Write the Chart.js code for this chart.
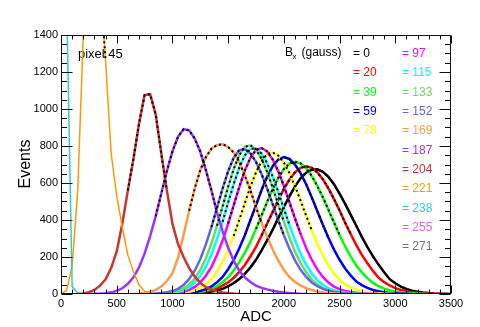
<!DOCTYPE html>
<html>
<head>
<meta charset="utf-8">
<script src="https://cdn.jsdelivr.net/npm/chart.js@4.4.1/dist/chart.umd.min.js"></script>
<style>
  html, body { margin: 0; padding: 0; background: #fff; }
</style>
</head>
<body>
<canvas id="adcChart" width="480" height="327"></canvas>
<script>

// B_x values (gauss) and the colour of each histogram
const fields = [0, 20, 39, 59, 78, 97, 115, 133, 152, 169, 187, 204, 221, 238, 255, 271]
const colors = ["#000000", "#ff0000", "#00ff00", "#0000ff", "#ffff00", "#ff00ff", "#00ffff", "#66dd66",
                "#6666dd", "#ff9a4a", "#9933ff", "#cc3333", "#ff9900", "#33cccc", "#dd66dd", "#707070"]

// bins are 50 ADC wide, each histogram listed from its first bin
const binWidth = 50
const firstBin = [1050, 1000, 1000, 950, 900, 850, 850, 800, 750, 650, 250, 150, 0, 0, 0, 0]

const counts0 = [0,1,2,3,5,8,13,19,28,42,59,81,109,144,185,236,290,348,410,470,528,582,625,656,672,674,660,633,593,543,487,428,369,309,253,203,159,118,80,58,40,27,18,12,8,5,3,2,1,0]
const counts20 = [0,1,2,3,5,8,13,20,30,45,63,88,119,157,204,255,316,381,444,509,568,618,658,682,690,682,658,620,571,513,451,385,324,264,211,166,125,88,64,46,32,22,15,10,6,4,2,1,0]
const counts39 = [0,1,2,4,7,11,18,29,43,64,91,127,172,224,284,352,425,498,568,628,675,705,715,706,680,638,584,523,455,386,319,257,202,154,117,86,60,42,29,20,13,9,6,4,2,1,0]
const counts59 = [0,1,2,3,6,10,16,26,41,63,92,134,184,247,318,400,480,562,634,691,727,740,730,700,653,593,523,449,374,304,240,185,138,100,68,48,33,22,15,10,6,4,2,1,0]
const counts78 = [0,1,2,4,7,12,19,33,53,81,121,173,237,314,401,491,580,658,719,756,765,748,710,654,583,505,423,345,272,208,154,111,77,53,36,24,16,10,6,4,2,1,0]
const counts97 = [0,1,2,4,7,13,22,38,63,99,147,211,289,381,480,578,667,736,779,789,771,727,663,584,497,408,325,249,185,133,92,62,40,26,17,11,7,4,2,1,0]
const counts115 = [0,1,3,6,11,20,36,62,97,148,214,296,391,494,595,683,750,785,787,759,707,635,551,461,373,290,218,159,111,75,50,32,20,13,8,5,3,1,0]
const counts133 = [0,1,2,5,9,17,30,51,83,130,193,273,369,473,580,675,751,795,804,781,731,660,575,483,391,305,229,167,117,78,51,33,21,13,8,5,3,1,0]
const counts152 = [0,1,2,5,9,16,28,49,81,126,188,268,362,466,570,664,737,778,783,760,714,648,570,484,399,318,245,182,131,92,62,42,28,18,11,7,4,2,1,0]
const counts169 = [0,2,5,11,22,40,70,112,195,320,450,570,670,740,785,805,810,795,765,715,640,560,470,385,310,240,180,130,92,65,46,32,22,14,9,5,3,1,0]
const counts187 = [0,1,2,4,9,17,31,55,90,144,218,313,421,543,665,771,850,891,885,840,770,670,560,440,340,250,180,125,90,65,45,33,25,18,12,8,5,3,1,0]
const counts204 = [0,3,10,22,45,80,140,230,380,560,730,920,1075,1080,970,760,560,380,270,200,140,95,60,38,24,14,8,4,2,0]
const counts221 = [0,20,150,560,1400,2050,2150,1700,1260,760,530,360,210,120,50,14,3,0]
const counts238 = [3500,1600,40,5,0]
const counts255 = [9000,0]
const counts271 = [9000,0]

const counts = [counts0, counts20, counts39, counts59, counts78, counts97, counts115, counts133,
                counts152, counts169, counts187, counts204, counts221, counts238, counts255, counts271]

const xTicks = [0, 500, 1000, 1500, 2000, 2500, 3000, 3500]
const yTicks = [0, 200, 400, 600, 800, 1000, 1200, 1400]

// gaussian fits are drawn over the part of each peak above this fraction
const fitFraction = 0.4
const font = "'Liberation Sans', Arial, sans-serif"


function toPoints(i) {
    return counts[i].map((v, k) => ({ x: firstBin[i] + k * binWidth, y: v }))
}

const datasets = []

// black dotted fits, on top
fields.forEach((b, i) => {
    if (i > 12) return
    const pts = toPoints(i)
    const top = Math.max(...counts[i])
    datasets.push({
        data: pts.filter(p => p.y >= fitFraction * top),
        borderColor: "#000",
        borderWidth: 2,
        borderDash: [2, 3],
        pointRadius: 0,
        order: 0
    })
})

fields.forEach((b, i) => {
    datasets.push({
        data: toPoints(i),
        borderColor: colors[i],
        borderWidth: i >= 12 ? 1.5 : 2.5,
        pointRadius: 0,
        stepped: i >= 14 ? "after" : false,
        order: 100 - i
    })
})


/* FRAME, TICKS AND TEXT */

const decorations = {
    id: "decorations",

    beforeDatasetsDraw(chart) {
        const ctx = chart.ctx
        ctx.save()
        ctx.fillStyle = "#000"
        ctx.font = "13px " + font
        ctx.textBaseline = "middle"
        ctx.fillText("pixel 45", 78, 54)
        ctx.restore()
    },

    afterDatasetsDraw(chart) {
        const { ctx, chartArea: a, scales: { x, y } } = chart
        const L = Math.round(a.left) + 0.5
        const R = Math.round(a.right) - 0.5
        const T = Math.round(a.top) + 0.5
        const B = Math.round(a.bottom) - 0.5

        ctx.save()
        ctx.strokeStyle = "#111"
        ctx.lineWidth = 1
        ctx.beginPath()
        ctx.rect(L, T, R - L, B - T)

        for (let v = 0; v <= 3500; v += 100) {
            const px = Math.round(x.getPixelForValue(v)) + 0.5
            const len = v % 500 === 0 ? 8 : 4
            ctx.moveTo(px, B); ctx.lineTo(px, B - len)
            ctx.moveTo(px, T); ctx.lineTo(px, T + len)
        }
        for (let v = 0; v <= 1400; v += 50) {
            const py = Math.round(y.getPixelForValue(v)) + 0.5
            const len = v % 200 === 0 ? 11 : 5.5
            ctx.moveTo(L, py); ctx.lineTo(L + len, py)
            ctx.moveTo(R, py); ctx.lineTo(R - len, py)
        }
        ctx.stroke()

        // legend
        ctx.font = "12px " + font
        ctx.textBaseline = "middle"
        ctx.fillStyle = "#000"
        ctx.fillText("B", 285, 53)
        ctx.font = "8px " + font
        ctx.fillText("x", 292.5, 57)
        ctx.font = "12px " + font
        ctx.fillText("(gauss)", 301.5, 53)
        fields.forEach((b, i) => {
            const col = i < 5 ? 0 : 1
            const row = i < 5 ? i : i - 5
            ctx.fillStyle = colors[i]
            ctx.fillText("= " + b, col ? 402 : 353, 53.5 + row * 19.35)
        })

        // axis titles
        ctx.fillStyle = "#000"
        ctx.font = "15px " + font
        ctx.textAlign = "center"
        ctx.textBaseline = "alphabetic"
        ctx.fillText("ADC", 256, 321)
        ctx.translate(30, 164)
        ctx.rotate(-Math.PI / 2)
        ctx.font = "16px " + font
        ctx.fillText("Events", 0, 0)
        ctx.restore()
    }
}


const adcChart = new Chart(
    document.getElementById("adcChart"),
    {
        type: "line",
        data: { datasets },
        options: {
            responsive: false,
            animation: false,
            events: [],
            layout: { padding: { top: 35, right: 29, left: 0, bottom: 0 } },
            plugins: { legend: { display: false }, tooltip: { enabled: false } },
            scales: {
                x: {
                    type: "linear",
                    min: 0,
                    max: 3500,
                    grid: { display: false, drawTicks: false },
                    border: { display: false },
                    afterBuildTicks: s => { s.ticks = xTicks.map(v => ({ value: v })) },
                    afterFit: s => { s.height = 33 },
                    ticks: {
                        color: "#000",
                        font: { family: font, size: 11 },
                        padding: 3,
                        maxRotation: 0,
                        autoSkip: false,
                        callback: v => String(v)
                    }
                },
                y: {
                    min: 0,
                    max: 1400,
                    grid: { display: false, drawTicks: false },
                    border: { display: false },
                    afterBuildTicks: s => { s.ticks = yTicks.map(v => ({ value: v })) },
                    afterFit: s => { s.width = 61 },
                    ticks: {
                        color: "#000",
                        font: { family: font, size: 11 },
                        padding: 3,
                        callback: v => String(v)
                    }
                }
            }
        },
        plugins: [decorations]
    })
</script>
</body>
</html>
